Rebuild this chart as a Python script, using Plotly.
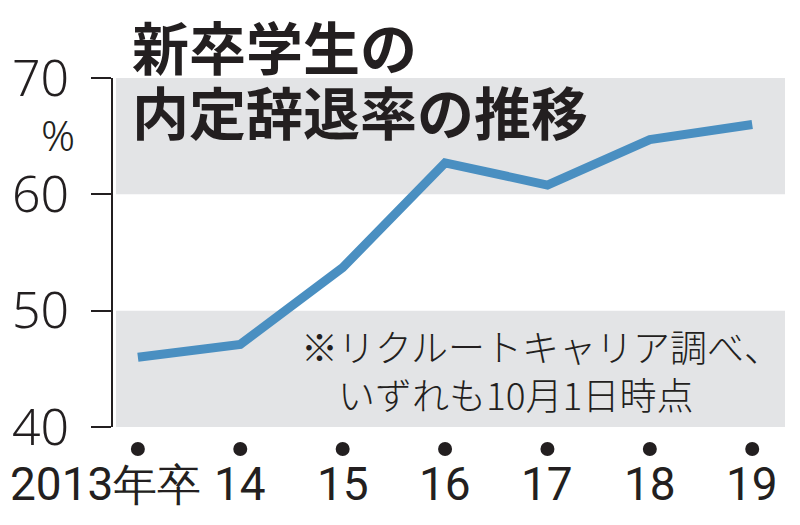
import plotly.graph_objects as go

categories = ["2013年卒", "14", "15", "16", "17", "18", "19"]
rates = [46.0, 47.1, 53.7, 62.7, 60.8, 64.7, 66.0]
y_ticks = [40, 50, 60, 70]
y_ticklabels = ["40", "50", "60", "70"]
title_lines = ["新卒学生の", "内定辞退率の推移"]
note_text = "※リクルートキャリア調べ、<br>　いずれも10月1日時点"

xs = list(range(len(categories)))
ink = "#231f20"
band = "#e3e4e6"
line_color = "#4a8fc1"
num_font = "Roboto, sans-serif"
jp_font = "Noto Sans CJK JP"

PW, PH, L, T = 675, 349, 110, 78


def py(pix):
    return (T + PH - pix) / PH


def px(pix):
    return (pix - L) / PW


fig = go.Figure()
fig.add_trace(go.Scatter(
    x=xs, y=rates, mode="lines",
    line=dict(color=line_color, width=9),
    hoverinfo="skip", showlegend=False,
))

# background bands
for lo, hi in [(60, 70), (40, 50)]:
    fig.add_shape(type="rect", xref="paper", yref="y",
                  x0=px(113), x1=1, y0=lo, y1=hi,
                  fillcolor=band, line=dict(width=0), layer="below")

# dots under the x axis
for i in xs:
    fig.add_shape(type="circle", xref="x", yref="paper",
                  xsizemode="pixel", ysizemode="pixel",
                  xanchor=i, yanchor=py(449),
                  x0=-7, x1=7, y0=-7, y1=7,
                  fillcolor=ink, line=dict(width=0))

for i, c in enumerate(categories):
    if i == 0:
        text = "2013<span style='font-size:44px'>年卒</span>"
    else:
        text = c
    fig.add_annotation(
        x=i, y=py(484), xref="x", yref="paper", text=text, showarrow=False,
        xanchor="center", yanchor="middle",
        xshift=-32 if i == 0 else 0,
        font=dict(family=num_font, size=46, color=ink, weight=400),
    )

fig.add_annotation(x=px(55), y=py(134), xref="paper", yref="paper",
                   text="%", showarrow=False, xanchor="center", yanchor="middle",
                   font=dict(family="Noto Sans", size=42, color=ink, weight=300))
for k, t in enumerate(title_lines):
    fig.add_annotation(x=px(127), y=py(45 + 65 * k),
                       xref="paper", yref="paper", text=t, showarrow=False,
                       xanchor="left", yanchor="middle",
                       font=dict(family=jp_font, size=57, color=ink, weight="bold"))
fig.add_annotation(x=px(297), y=py(370),
                   xref="paper", yref="paper", text=note_text, showarrow=False,
                   xanchor="left", yanchor="middle", align="left",
                   font=dict(family=jp_font, size=37, color=ink, weight=300))

fig.update_layout(
    width=800, height=525,
    margin=dict(l=L, r=800 - L - PW, t=T, b=525 - T - PH),
    paper_bgcolor="white", plot_bgcolor="white",
    xaxis=dict(range=[-0.243, 6.32], showgrid=False, zeroline=False,
               showticklabels=False, ticks="", showline=False, fixedrange=True),
    yaxis=dict(range=[40, 70], tickvals=y_ticks, ticktext=y_ticklabels,
               showgrid=False, zeroline=False, showline=True,
               linecolor=ink, linewidth=2, ticks="outside", ticklen=20,
               tickwidth=2, tickcolor=ink, ticklabelstandoff=12,
               tickfont=dict(family="Noto Sans", size=50, color=ink, weight=300),
               fixedrange=True),
)

fig.write_html("out.html", config={"displayModeBar": False},
               post_script="document.body.style.margin='0';document.body.style.padding='0';")
